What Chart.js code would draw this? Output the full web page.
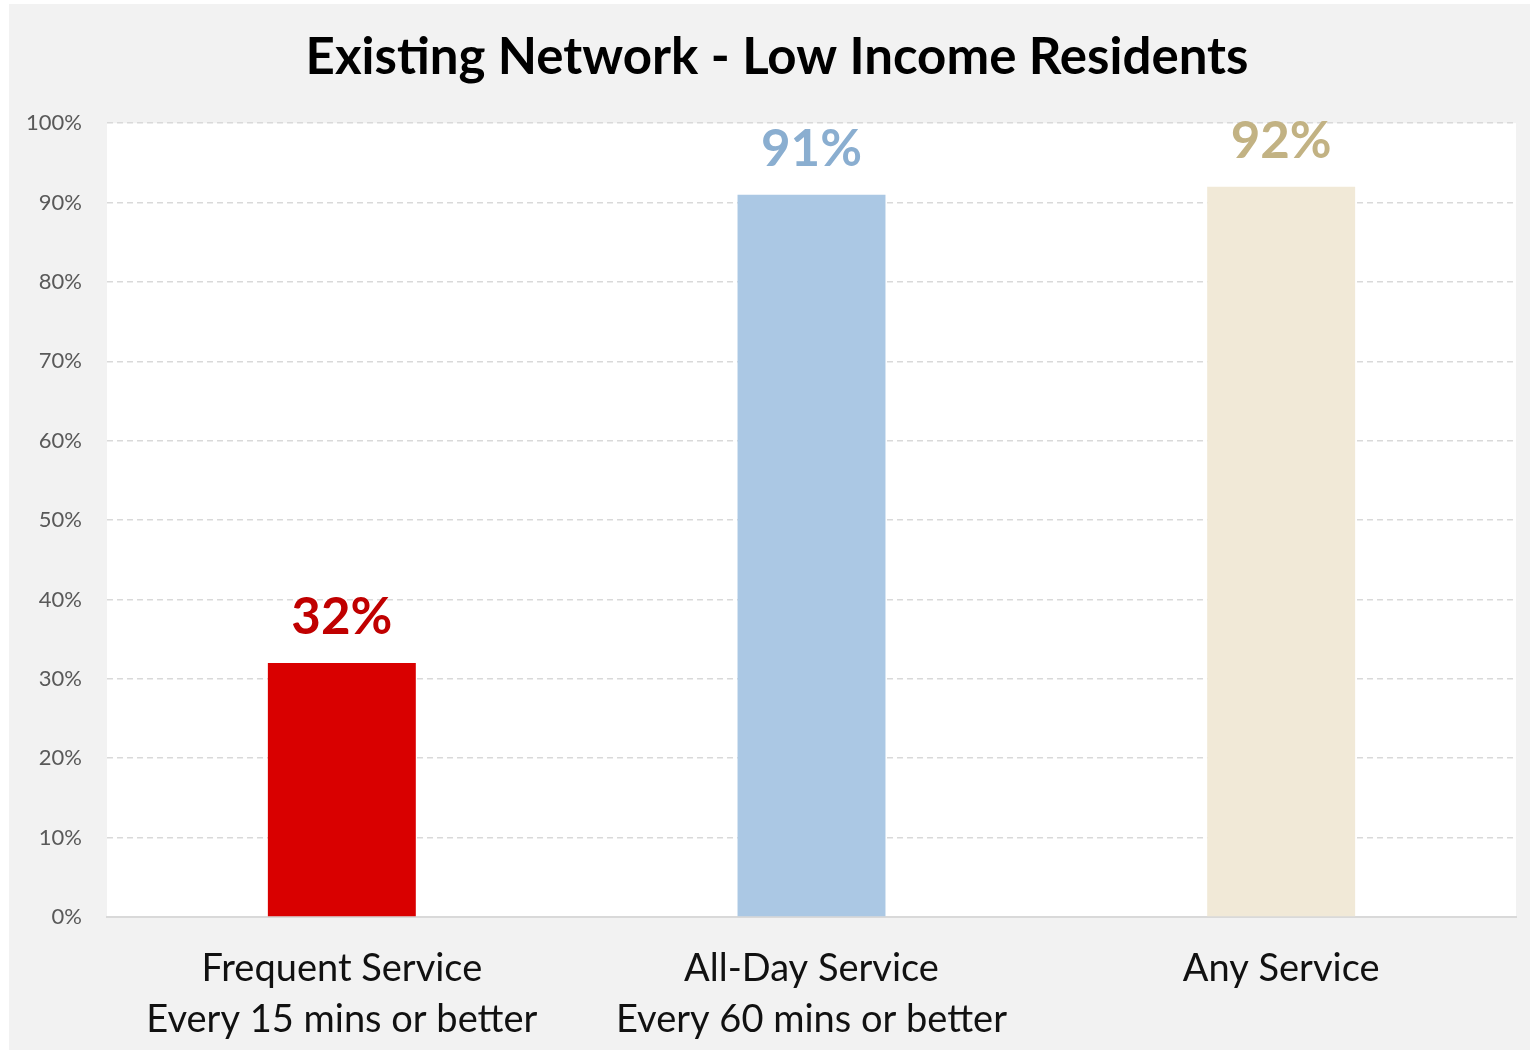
<!DOCTYPE html>
<html>
<head>
<meta charset="utf-8">
<script src="https://cdn.jsdelivr.net/npm/chart.js@4.4.0/dist/chart.umd.min.js"></script>
<style>
  html, body { margin: 0; padding: 0; background: #ffffff; }
  #wrap { position: absolute; left: 9px; top: 4px; width: 1521px; height: 1046px; background: #f2f2f2; }
</style>
</head>
<body>
<div id="wrap"><canvas id="chart" width="1521" height="1046"></canvas></div>
<script>
const categories = [
  ['Frequent Service', 'Every 15 mins or better'],
  ['All-Day Service', 'Every 60 mins or better'],
  ['Any Service']
]
const values = [32, 91, 92]
const barColors = ['#d90000', '#abc8e4', '#f1e9d7']
const labelColors = ['#c00000', '#8aaed0', '#c2b283']
const yTicks = [0, 10, 20, 30, 40, 50, 60, 70, 80, 90, 100]

const FONT = 'Lato, "Noto Sans", sans-serif'

// white plot area behind the bars
const plotBg = {
  id: 'plotBg',
  beforeDraw(chart) {
    const { ctx, chartArea: a } = chart
    ctx.save()
    ctx.fillStyle = '#ffffff'
    ctx.fillRect(a.left, a.top, a.right - a.left, a.bottom - a.top)
    ctx.restore()
  }
}

// nudge the title a little right of the canvas centre, like the original
const titleShift = {
  id: 'titleShift',
  afterLayout(chart) {
    if (chart.titleBlock) chart.titleBlock.left += 29
  }
}

// value labels above each bar
const valueLabels = {
  id: 'valueLabels',
  afterDatasetsDraw(chart) {
    const { ctx } = chart
    const meta = chart.getDatasetMeta(0)
    ctx.save()
    ctx.font = 'bold 51px ' + FONT
    ctx.textAlign = 'center'
    ctx.textBaseline = 'alphabetic'
    meta.data.forEach((bar, i) => {
      ctx.fillStyle = labelColors[i]
      ctx.fillText(values[i] + '%', bar.x, bar.y - 29)
    })
    ctx.restore()
  }
}

new Chart(document.getElementById('chart'), {
  type: 'bar',
  data: {
    labels: categories,
    datasets: [{
      data: values,
      backgroundColor: barColors,
      barPercentage: 0.315,
      categoryPercentage: 1
    }]
  },
  options: {
    responsive: false,
    animation: false,
    layout: { padding: { left: 0, right: 14, top: 0, bottom: 0 } },
    plugins: {
      legend: { display: false },
      tooltip: { enabled: false },
      title: {
        display: true,
        text: 'Existing Network - Low Income Residents',
        color: '#000000',
        font: { family: FONT, size: 51, weight: 'bold', lineHeight: 1.2 },
        padding: { top: 23, bottom: 35 }
      }
    },
    scales: {
      x: {
        grid: { display: false, drawTicks: false },
        border: { display: true, color: '#d9d9d9', width: 2 },
        ticks: {
          color: '#111111',
          font: { family: FONT, size: 38, lineHeight: 1.34 },
          padding: 26,
          maxRotation: 0,
          autoSkip: false
        },
        afterFit(scale) { scale.height = 133 }
      },
      y: {
        min: 0,
        max: 100,
        afterBuildTicks(scale) { scale.ticks = yTicks.map(v => ({ value: v })) },
        grid: { color: '#d9d9d9', lineWidth: 1.5, drawTicks: false },
        border: { display: false, dash: [6, 4] },
        ticks: {
          color: '#595959',
          font: { family: FONT, size: 22 },
          padding: 25,
          callback: v => v + '%'
        },
        afterFit(scale) { scale.width = 98 }
      }
    }
  },
  plugins: [plotBg, titleShift, valueLabels]
})
</script>
</body>
</html>
